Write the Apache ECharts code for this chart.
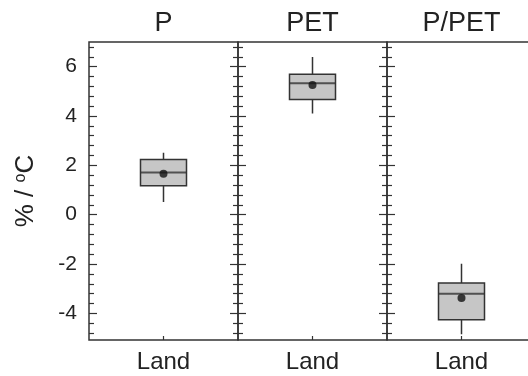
<!DOCTYPE html>
<html><head><meta charset="utf-8">
<script src="https://cdn.jsdelivr.net/npm/echarts@6/dist/echarts.min.js"></script>
<style>html,body{margin:0;padding:0;background:#fff}#c{width:528px;height:376px}</style>
</head><body><div id="c"></div>
<script>
const panels = ['P', 'PET', 'P/PET'];
const categories = ['Land'];
const whiskerLow = [0.51, 4.10, -4.85];
const q1 = [1.17, 4.67, -4.26];
const median = [1.71, 5.33, -3.21];
const q3 = [2.24, 5.69, -2.77];
const whiskerHigh = [2.51, 6.39, -1.99];
const means = [1.66, 5.26, -3.38];
const majorTicks = [-4, -2, 0, 2, 4, 6];
const minorTicks = [-4.8, -4.4, -3.6, -3.2, -2.8, -2.4, -1.6, -1.2, -0.8, -0.4, 0.4, 0.8, 1.2, 1.6, 2.4, 2.8, 3.2, 3.6, 4.4, 4.8, 5.2, 5.6, 6.4, 6.8];
const yMin = -5.08, yMax = 7;

const FONT = 'Liberation Sans';
const INK = '#333';
const grids = [], xAxes = [], yAxes = [], series = [];
panels.forEach((name, i) => {
  grids.push({left: 89 + i * 149, top: 42, width: 149, height: 298, show: true,
    outerBoundsMode: 'none', containLabel: false,
    borderColor: INK, borderWidth: 1.5, backgroundColor: 'transparent'});
  xAxes.push({type: 'category', gridIndex: i, data: categories, position: 'bottom',
    axisLine: {show: false, onZero: false},
    axisTick: {show: true, alignWithLabel: true, inside: true, length: 4, lineStyle: {color: INK, width: 1.2}},
    axisLabel: {fontFamily: FONT, fontSize: 24, color: '#222', margin: 10},
    splitLine: {show: false}});
  xAxes.push({type: 'category', gridIndex: i, data: [name], position: 'top',
    axisLine: {show: false, onZero: false}, axisTick: {show: false},
    axisLabel: {fontFamily: FONT, fontSize: 27, color: '#222', margin: 5},
    splitLine: {show: false}});
  const mk = (pos, custom, len, label) => ({
    type: 'value', gridIndex: i, position: pos, min: yMin, max: yMax,
    axisLine: {show: false}, splitLine: {show: false},
    axisTick: {show: true, inside: true, length: len, customValues: custom, lineStyle: {color: INK, width: 1.2}},
    axisLabel: label ? {show: true, customValues: majorTicks, fontFamily: FONT, fontSize: 21, color: '#222', margin: 12} : {show: false}
  });
  const lm = mk('left', majorTicks, 8, i === 0);
  if (i === 0) {
    lm.name = '{a|% / }{s|o}{a|C}';
    lm.nameLocation = 'middle';
    lm.nameGap = 50;
    lm.nameRotate = 90;
    lm.nameTextStyle = {rich: {a: {fontFamily: FONT, fontSize: 26, color: '#222'}, s: {fontFamily: FONT, fontSize: 16, color: '#222', verticalAlign: 'top', padding: [0, 0, 10, 0]}}};
  }
  yAxes.push(lm, mk('left', minorTicks, 5, false), mk('right', majorTicks, 8, false), mk('right', minorTicks, 5, false));
  series.push({type: 'candlestick', xAxisIndex: 2 * i, yAxisIndex: 4 * i, barWidth: 46,
    itemStyle: {color: '#c6c6c6', color0: '#c6c6c6', borderColor: INK, borderColor0: INK, borderWidth: 1.5},
    data: [[q1[i], q3[i], whiskerLow[i], whiskerHigh[i]]], z: 2, silent: true});
  series.push({type: 'scatter', xAxisIndex: 2 * i, yAxisIndex: 4 * i, symbol: 'rect', symbolSize: [46, 2],
    itemStyle: {color: INK}, data: [median[i]], z: 3, silent: true});
  series.push({type: 'scatter', xAxisIndex: 2 * i, yAxisIndex: 4 * i, symbol: 'circle', symbolSize: 8,
    itemStyle: {color: '#111'}, data: [means[i]], z: 4, silent: true});
});

const chart = echarts.init(document.getElementById('c'), null, {renderer: 'canvas'});
chart.setOption({animation: false, backgroundColor: '#fff', grid: grids, xAxis: xAxes, yAxis: yAxes, series: series});
</script></body></html>
